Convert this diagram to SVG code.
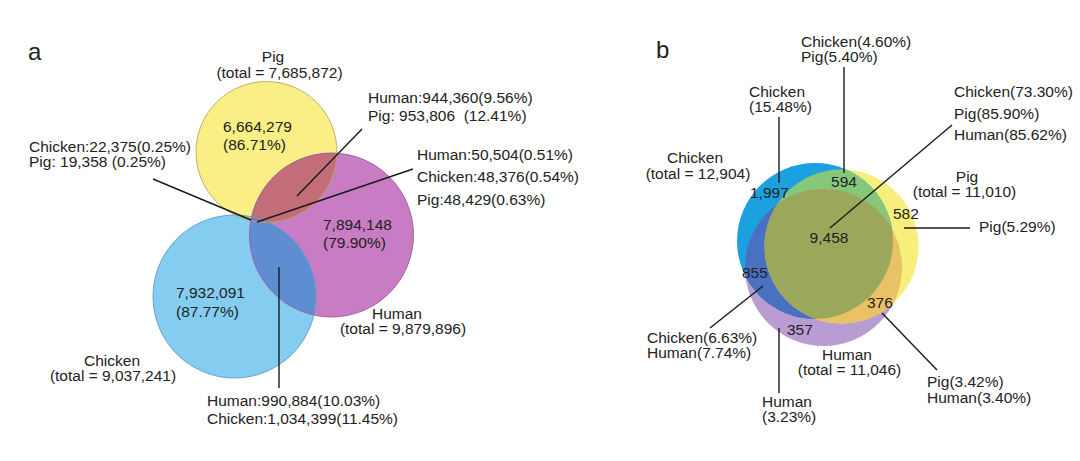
<svg xmlns="http://www.w3.org/2000/svg" width="1080" height="461" viewBox="0 0 1080 461">
<style>
text{font-family:"Liberation Sans",Arial,Helvetica,sans-serif;font-size:15.5px;fill:#222}
.big{font-size:24px}
.m{text-anchor:middle}
.ln{stroke:#1a1a1a;stroke-width:1.4;fill:none}
.ol{fill:none;stroke-width:0.9}
</style>
<defs>
<clipPath id="aP"><circle cx="266.5" cy="152" r="70.5"/></clipPath>
<clipPath id="aH"><circle cx="331.5" cy="235" r="82"/></clipPath>
<clipPath id="aC"><circle cx="234.5" cy="296.5" r="81.5"/></clipPath>
<clipPath id="bC"><circle cx="815" cy="241" r="78"/></clipPath>
<clipPath id="bP"><circle cx="841.5" cy="246.5" r="77"/></clipPath>
<clipPath id="bH"><circle cx="823.5" cy="267.5" r="78.5"/></clipPath>
</defs>
<rect width="1080" height="461" fill="#ffffff"/>

<g id="panel-a-sets">
<circle cx="266.5" cy="152" r="70.5" fill="#f9ef85"/>
<circle cx="331.5" cy="235" r="82" fill="#c87cc3"/>
<circle cx="234.5" cy="296.5" r="81.5" fill="#84cdf0"/>
<g clip-path="url(#aP)"><circle cx="331.5" cy="235" r="82" fill="#c26d78"/></g>
<g clip-path="url(#aC)"><circle cx="331.5" cy="235" r="82" fill="#5f8dd2"/></g>
<g clip-path="url(#aC)"><circle cx="266.5" cy="152" r="70.5" fill="#a8c8a0"/></g>
<g clip-path="url(#aC)"><g clip-path="url(#aH)"><circle cx="266.5" cy="152" r="70.5" fill="#7a78a8"/></g></g>
<circle class="ol" cx="266.5" cy="152" r="70.5" stroke="#b8a860"/>
<circle class="ol" cx="331.5" cy="235" r="82" stroke="#a05c9c"/>
<circle class="ol" cx="234.5" cy="296.5" r="81.5" stroke="#5d9cc6"/>
</g>

<g id="panel-b-sets">
<circle cx="823.5" cy="267.5" r="78.5" fill="#b99cd2"/>
<circle cx="841.5" cy="246.5" r="77" fill="#f8ee7c"/>
<circle cx="815" cy="241" r="78" fill="#1ba0e0"/>
<g clip-path="url(#bC)"><circle cx="841.5" cy="246.5" r="77" fill="#86c77a"/></g>
<g clip-path="url(#bC)"><circle cx="823.5" cy="267.5" r="78.5" fill="#4a70c2"/></g>
<g clip-path="url(#bP)"><circle cx="823.5" cy="267.5" r="78.5" fill="#e8c265"/></g>
<g clip-path="url(#bC)"><g clip-path="url(#bP)"><circle cx="823.5" cy="267.5" r="78.5" fill="#9ba75b"/></g></g>
</g>

<g id="connectors">
<line class="ln" x1="153" y1="179" x2="251" y2="220"/>
<line class="ln" x1="362" y1="129" x2="297" y2="196"/>
<line class="ln" x1="413" y1="169" x2="257" y2="222"/>
<line class="ln" x1="279" y1="267" x2="279" y2="388"/>
<line class="ln" x1="844" y1="67" x2="844" y2="173"/>
<line class="ln" x1="779" y1="117" x2="779" y2="183"/>
<line class="ln" x1="952" y1="125" x2="830" y2="228"/>
<line class="ln" x1="904" y1="228" x2="970" y2="228"/>
<line class="ln" x1="763" y1="286" x2="710" y2="328"/>
<line class="ln" x1="779" y1="328" x2="779" y2="393"/>
<line class="ln" x1="882" y1="313" x2="937" y2="370"/>
</g>

<g id="panel-a-labels">
<text class="big" x="28" y="60">a</text>
<text class="m" x="273" y="62">Pig</text>
<text class="m" x="279.5" y="78">(total = 7,685,872)</text>
<text x="223" y="132">6,664,279</text>
<text x="223" y="150">(86.71%)</text>
<text x="29" y="152">Chicken:22,375(0.25%)</text>
<text x="29" y="167">Pig: 19,358 (0.25%)</text>
<text x="368" y="103">Human:944,360(9.56%)</text>
<text x="368" y="121" xml:space="preserve">Pig: 953,806  (12.41%)</text>
<text x="417" y="160">Human:50,504(0.51%)</text>
<text x="417" y="182">Chicken:48,376(0.54%)</text>
<text x="417" y="205">Pig:48,429(0.63%)</text>
<text x="323" y="230">7,894,148</text>
<text x="323" y="248">(79.90%)</text>
<text x="176" y="298">7,932,091</text>
<text x="176" y="317">(87.77%)</text>
<text class="m" x="112" y="366">Chicken</text>
<text class="m" x="113" y="381">(total = 9,037,241)</text>
<text class="m" x="397" y="319">Human</text>
<text class="m" x="403" y="334">(total = 9,879,896)</text>
<text x="207" y="406">Human:990,884(10.03%)</text>
<text x="207" y="424">Chicken:1,034,399(11.45%)</text>
</g>

<g id="panel-b-labels">
<text class="big" x="656" y="58">b</text>
<text x="801" y="47">Chicken(4.60%)</text>
<text x="801" y="62">Pig(5.40%)</text>
<text x="749" y="97">Chicken</text>
<text x="749" y="112">(15.48%)</text>
<text class="m" x="695" y="163">Chicken</text>
<text class="m" x="698" y="179">(total = 12,904)</text>
<text x="954" y="97">Chicken(73.30%)</text>
<text x="954" y="119">Pig(85.90%)</text>
<text x="954" y="140">Human(85.62%)</text>
<text class="m" x="844" y="187">594</text>
<text x="750" y="198">1,997</text>
<text class="m" x="829" y="243">9,458</text>
<text class="m" x="967" y="182">Pig</text>
<text class="m" x="964.5" y="197">(total = 11,010)</text>
<text x="893" y="219">582</text>
<text x="979" y="232">Pig(5.29%)</text>
<text x="742" y="278">855</text>
<text x="647" y="343">Chicken(6.63%)</text>
<text x="647" y="358">Human(7.74%)</text>
<text x="787" y="335">357</text>
<text x="867" y="308">376</text>
<text class="m" x="847" y="360">Human</text>
<text class="m" x="849.5" y="375">(total = 11,046)</text>
<text x="762" y="407">Human</text>
<text x="762" y="422">(3.23%)</text>
<text x="927" y="387">Pig(3.42%)</text>
<text x="927" y="403">Human(3.40%)</text>
</g>
</svg>
